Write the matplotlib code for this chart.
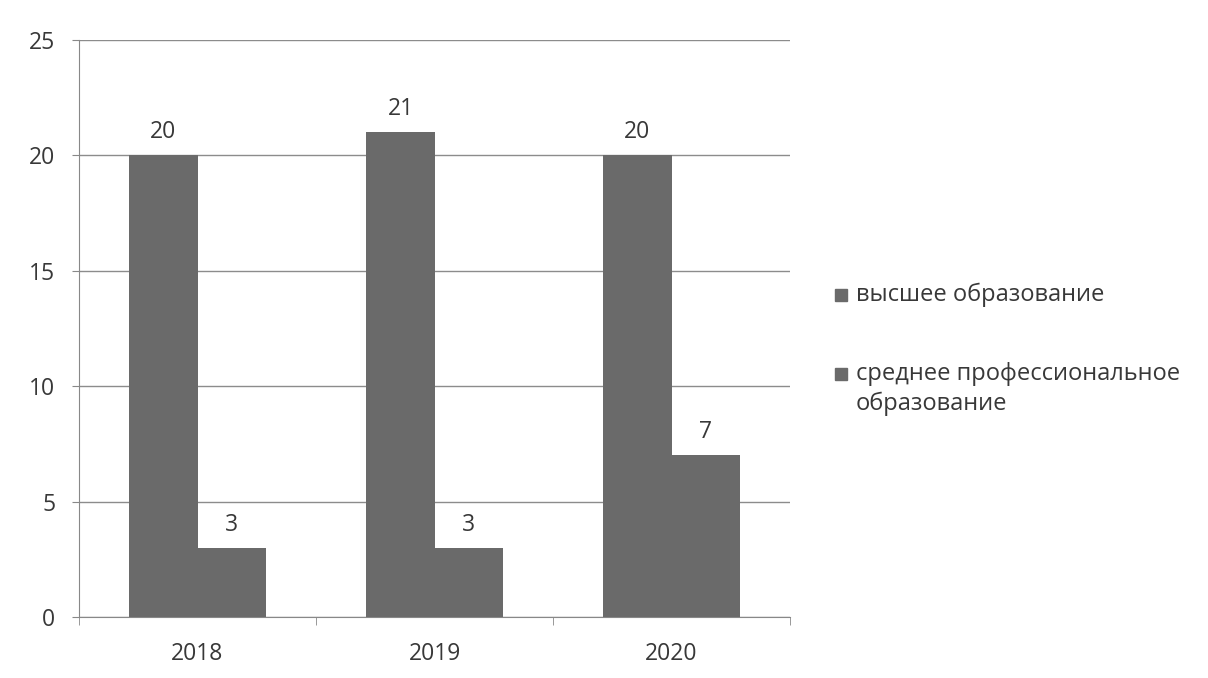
import numpy as np
import matplotlib.pyplot as plt
from matplotlib.patches import Rectangle

plt.rcParams['font.family'] = ['Open Sans', 'DejaVu Sans']

years = ['2018', '2019', '2020']
higher = [20, 21, 20]
vocational = [3, 3, 7]
series_names = ['высшее образование', 'среднее профессиональное\nобразование']

bar_color = '#6a6a6a'
text_color = '#383838'
fs = 16.5

W, H = 1208, 678
fig = plt.figure(figsize=(W / 100, H / 100), dpi=100)
ax = fig.add_axes([79 / W, 1 - 617 / H, 711 / W, 577 / H])

x = np.arange(len(years))
w = 0.287
b1 = ax.bar(x - w / 2, higher, w, color=bar_color, zorder=3)
b2 = ax.bar(x + w / 2, vocational, w, color=bar_color, zorder=3)

for bars in (b1, b2):
    for rect in bars:
        ax.annotate(str(int(rect.get_height())),
                    (rect.get_x() + rect.get_width() / 2, rect.get_height()),
                    xytext=(0, 8), textcoords='offset points',
                    ha='center', va='bottom', fontsize=fs, color=text_color)

ax.set_xlim(-0.5, 2.5)
ax.set_ylim(0, 25)
ax.set_yticks(range(0, 26, 5))
ax.set_xticks(x)
ax.set_xticklabels(years)
ax.tick_params(axis='both', labelsize=fs, colors=text_color)
ax.tick_params(axis='x', length=0, pad=18)
ax.set_xticks([-0.5, 0.5, 1.5, 2.5], minor=True)
ax.tick_params(axis='x', which='minor', length=6, color='#888888', direction='out')
ax.tick_params(axis='y', length=5, color='#888888', direction='out', pad=12)

ax.grid(axis='y', color='#8c8c8c', linewidth=1, zorder=0)
for s in ('top', 'right'):
    ax.spines[s].set_visible(False)
for s in ('left', 'bottom'):
    ax.spines[s].set_color('#888888')

# legend drawn by hand so the square sits on the first text line
line_step = 30
legend_first_baselines = [301, 380]
for name, yb in zip(series_names, legend_first_baselines):
    fig.patches.append(Rectangle((835 / W, 1 - yb / H), 12 / W, 12 / H,
                                 transform=fig.transFigure, color=bar_color))
    # va='baseline' aligns the last line, so shift down for extra lines
    y_last = yb + line_step * name.count('\n')
    fig.text(856 / W, 1 - y_last / H, name, fontsize=17, color=text_color,
             ha='left', va='baseline', linespacing=1.3)

fig.savefig('out.png', dpi=100)
